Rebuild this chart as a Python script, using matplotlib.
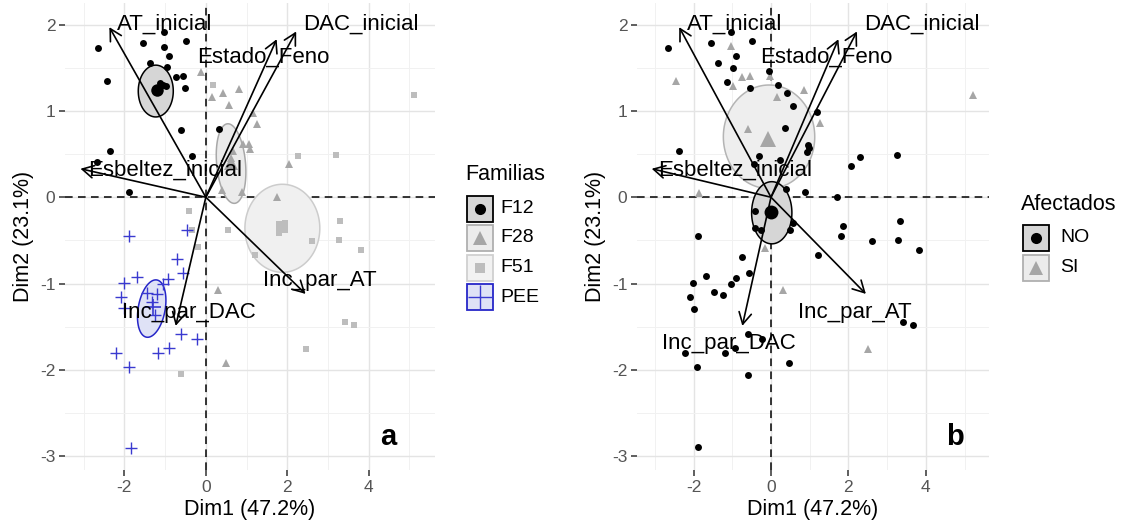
import numpy as np
import matplotlib
matplotlib.use("Agg")
from matplotlib import pyplot as plt
from matplotlib.patches import Rectangle, Polygon

plt.rcParams['font.family'] = ['Liberation Sans', 'DejaVu Sans']
plt.rcParams['axes.unicode_minus'] = False

# ---- panel a: individuos por familia ----
f12_x = [-2.64, -1.54, -1.03, -0.49, -1.03, -0.91, -1.37, -0.96, -2.43, -0.74, -0.57, -0.51,
         -1.21, -1.13, -1.25, -1.05, -0.97, -0.60, 0.33, -2.35, -2.68, -0.33, -1.88]
f12_y = [1.73, 1.79, 1.91, 1.81, 1.74, 1.64, 1.56, 1.51, 1.35, 1.39, 1.40, 1.27,
         1.26, 1.32, 1.24, 1.30, 1.29, 0.78, 0.79, 0.54, 0.41, 0.48, 0.06]

f28_x = [-0.11, 0.15, 0.41, 0.57, 0.82, 1.16, 1.26, 1.06, 1.08, 0.92, 2.05, 0.39, 0.88,
         1.74, 0.29, 0.49, 0.63, 0.66]
f28_y = [1.45, 1.16, 1.21, 1.07, 1.25, 0.98, 0.85, 0.62, 0.56, 0.62, 0.38, 0.08, 0.06,
         0.00, -1.07, -1.92, 0.45, 0.54]

f51_x = [0.18, 5.12, 2.27, 3.21, -0.41, -0.35, -0.19, 0.55, 1.20, 3.30, 2.62, 3.27, 3.82,
         3.41, 3.65, 2.47, -0.60, 1.80, 1.95]
f51_y = [1.30, 1.18, 0.48, 0.49, -0.16, -0.38, -0.58, -0.38, -0.67, -0.27, -0.51, -0.49, -0.61,
         -1.44, -1.48, -1.76, -2.05, -0.42, -0.30]

pee_x = [-1.88, -0.47, -0.72, -0.57, -1.70, -2.01, -0.92, -1.05, -1.45, -1.21, -2.09, -2.01,
         -1.33, -0.60, -0.21, -2.21, -1.17, -0.91, -1.88, -1.85, -1.25]
pee_y = [-0.45, -0.38, -0.71, -0.88, -0.92, -0.99, -0.95, -1.00, -1.11, -1.12, -1.16, -1.28,
         -1.21, -1.59, -1.64, -1.81, -1.81, -1.75, -1.97, -2.90, -1.36]

familias = ['F12', 'F28', 'F51', 'PEE']
fam_mean_x = [-1.21, 0.62, 1.88, -1.29]
fam_mean_y = [1.24, 0.40, -0.34, -1.27]
# elipses: centro y semiejes (vectores u, v)
fam_ell = [(-1.23, 1.23, 0.43, 0.0, 0.0, 0.30),
           (0.62, 0.39, 0.35, 0.03, -0.10, 0.46),
           (1.88, -0.36, 0.92, 0.0, 0.0, 0.51),
           (-1.33, -1.29, 0.32, -0.04, 0.14, 0.33)]

# ---- panel b: afectados ----
no_x = [-2.65, -1.56, -1.02, -0.50, -1.36, -0.91, -0.99, -1.14, -0.54, -0.05, 0.17, 0.42,
        0.58, 1.18, 0.36, 0.96, 0.99, 0.94, -2.37, -0.31, -0.44, 0.23, 2.30, 2.07, 3.26,
        0.38, 0.88, 1.70, -0.40, -0.40, -0.25, 0.56, 0.49, 1.87, 3.33, 1.80, 2.62, 3.29,
        3.83, -1.88, -0.74, 1.22, -0.57, -1.69, -2.01, -0.90, -1.02, -1.47, -1.25, -2.09,
        -1.99, -0.59, -0.24, -2.22, -1.19, -0.93, -1.92, -0.60, 0.47, -1.88, 3.42, 3.68]
no_y = [1.73, 1.79, 1.91, 1.81, 1.56, 1.64, 1.50, 1.34, 1.27, 1.46, 1.30, 1.21,
        1.06, 0.99, 0.80, 0.61, 0.57, 0.52, 0.54, 0.48, 0.38, 0.43, 0.47, 0.36, 0.49,
        0.10, 0.06, 0.00, -0.16, -0.36, -0.38, -0.30, -0.38, -0.33, -0.27, -0.45, -0.51, -0.49,
        -0.61, -0.45, -0.69, -0.67, -0.88, -0.91, -0.99, -0.94, -1.00, -1.10, -1.13, -1.16,
        -1.29, -1.58, -1.64, -1.81, -1.80, -1.75, -1.97, -2.06, -1.92, -2.89, -1.44, -1.48]

si_x = [-1.02, -2.44, -0.76, -0.55, -0.97, -0.03, 0.84, 0.16, -0.59, 1.26, 5.21, -1.86,
        -0.16, 0.30, 2.51]
si_y = [1.75, 1.35, 1.39, 1.40, 1.29, 1.41, 1.24, 1.16, 0.79, 0.86, 1.19, 0.05,
        -0.59, -1.07, -1.76]

afectados = ['NO', 'SI']
afe_mean_x = [0.0, -0.07]
afe_mean_y = [-0.17, 0.68]
afe_ell = [(0.02, -0.18, 0.52, 0.0, 0.0, 0.36),
           (-0.05, 0.70, 1.18, 0.0, 0.0, 0.60)]

# ---- variables (flechas) ----
var_names = ['AT_inicial', 'DAC_inicial', 'Estado_Feno', 'Esbeltez_inicial', 'Inc_par_AT', 'Inc_par_DAC']
var_x = [-2.37, 2.22, 1.74, -3.08, 2.45, -0.74]
var_y = [1.97, 1.92, 1.83, 0.33, -1.12, -1.49]
lab_a_x = [-1.0, 3.8, 1.4, -1.0, 2.8, -0.41]
lab_a_y = [2.0, 2.0, 1.62, 0.31, -0.96, -1.33]
lab_b_x = [-0.93, 3.9, 1.42, -0.93, 2.17, -1.08]
lab_b_y = [2.0, 2.0, 1.62, 0.31, -1.33, -1.70]

W, H = 1127, 524
fig = plt.figure(figsize=(W / 100, H / 100), dpi=100)


def base_axes(left_px, width_px):
    ax = fig.add_axes([left_px / W, (H - 470) / H, width_px / W, 467 / H])
    ax.set_xlim(-3.46, 5.63)
    ax.set_ylim(-3.16, 2.25)
    ax.set_xticks([-2, 0, 2, 4])
    ax.set_xticks([-3, -1, 1, 3, 5], minor=True)
    ax.set_yticks([-3, -2, -1, 0, 1, 2])
    ax.set_yticks([-2.5, -1.5, -0.5, 0.5, 1.5], minor=True)
    ax.grid(which='major', color='#e4e4e4', lw=1.0)
    ax.grid(which='minor', color='#f1f1f1', lw=0.7)
    ax.set_axisbelow(True)
    for s in ax.spines.values():
        s.set_visible(False)
    ax.tick_params(which='major', length=4, width=1.1, color='#333333', labelcolor='#555555',
                   labelsize=12.5, pad=3)
    ax.tick_params(which='minor', length=0)
    ax.set_xlabel('Dim1 (47.2%)', fontsize=15.5, labelpad=3)
    ax.set_ylabel('Dim2 (23.1%)', fontsize=15.5, labelpad=4)
    ax.axhline(0, color='black', lw=1.1, ls=(0, (5, 3.5)), zorder=2)
    ax.axvline(0, color='black', lw=1.1, ls=(0, (5, 3.5)), zorder=2)
    return ax


def ellipse(ax, e, face, edge, lw=1.1):
    cx, cy, ux, uy, vx, vy = e
    t = np.linspace(0, 2 * np.pi, 200)
    pts = np.column_stack([cx + ux * np.cos(t) + vx * np.sin(t),
                           cy + uy * np.cos(t) + vy * np.sin(t)])
    ax.add_patch(Polygon(pts, closed=True, facecolor=face, edgecolor=edge, lw=lw, zorder=3))


def arrows(ax, lx, ly):
    for name, x, y, tx, ty in zip(var_names, var_x, var_y, lx, ly):
        ax.annotate('', xy=(x, y), xytext=(0, 0),
                    arrowprops=dict(arrowstyle='->,head_length=0.55,head_width=0.3', lw=1.2,
                                    color='black', shrinkA=0, shrinkB=0, mutation_scale=15),
                    zorder=5)
        ax.text(tx, ty, name, fontsize=16, ha='center', va='center', color='black', zorder=6)


# panel a
ax1 = base_axes(65, 370)
ell_face = ['#d6d6d6', '#ebebeb', '#f0f0f0', '#dfe2f6']
ell_edge = ['black', '#a8a8a8', '#cccccc', '#2626c8']
for e, fc, ec in zip(fam_ell, ell_face, ell_edge):
    ellipse(ax1, e, fc, ec)
ax1.plot(f51_x, f51_y, 's', color='#bdbdbd', ms=5, mew=0, zorder=4)
ax1.plot(f28_x, f28_y, '^', color='#a6a6a6', ms=6, mew=0, zorder=4)
ax1.plot(pee_x, pee_y, '+', color='#3a3ad0', ms=8, mew=1.0, zorder=4)
ax1.plot(f12_x, f12_y, 'o', color='black', ms=5, mew=0, zorder=4)
mean_style = [('o', 'black', 9), ('^', '#a6a6a6', 10), ('s', '#bdbdbd', 9), ('+', '#3a3ad0', 12)]
for (m, c, s), mx, my in zip(mean_style, fam_mean_x, fam_mean_y):
    ax1.plot(mx, my, m, color=c, ms=s, mew=1.2 if m == '+' else 0, zorder=4)
arrows(ax1, lab_a_x, lab_a_y)

# panel b
ax2 = base_axes(637, 352)
ellipse(ax2, afe_ell[1], '#eeeeee', '#b4b4b4')
ellipse(ax2, afe_ell[0], '#d6d6d6', 'black')
ax2.plot(si_x, si_y, '^', color='#a6a6a6', ms=6, mew=0, zorder=4)
ax2.plot(no_x, no_y, 'o', color='black', ms=5, mew=0, zorder=4)
ax2.plot(afe_mean_x[0], afe_mean_y[0], 'o', color='black', ms=10, mew=0, zorder=4)
ax2.plot(afe_mean_x[1], afe_mean_y[1], '^', color='#a6a6a6', ms=11, mew=0, zorder=4)
arrows(ax2, lab_b_x, lab_b_y)

# leyendas y letras (capa en pixeles)
ov = fig.add_axes([0, 0, 1, 1])
ov.set_xlim(0, W)
ov.set_ylim(H, 0)
ov.axis('off')

ov.text(465, 175, 'Familias', fontsize=15.5, va='center', ha='left')
key_face = ['#d6d6d6', '#ececec', '#f2f2f2', '#dfe2f6']
key_edge = ['black', '#b0b0b0', '#d0d0d0', '#2626c8']
key_mark = [('o', 'black', 8, 0), ('^', '#a6a6a6', 10, 0), ('s', '#bdbdbd', 7, 0), ('+', '#3a3ad0', 18, 1.0)]
for i, lab in enumerate(familias):
    cy = 208.5 + i * 29.5
    ov.add_patch(Rectangle((467, cy - 13), 26, 26, facecolor=key_face[i], edgecolor=key_edge[i], lw=1.3))
    m, c, s, mw = key_mark[i]
    ov.plot(480, cy, m, color=c, ms=s, mew=mw)
    ov.text(500, cy, lab, fontsize=14, va='center', ha='left')

ov.text(1021, 205, 'Afectados', fontsize=15.5, va='center', ha='left')
bkey = [('#d6d6d6', 'black', 'o', 'black', 8), ('#ececec', '#b0b0b0', '^', '#a6a6a6', 10)]
for i, lab in enumerate(afectados):
    cy = 238 + i * 29.5
    fc, ec, m, c, s = bkey[i]
    ov.add_patch(Rectangle((1023, cy - 13), 26, 26, facecolor=fc, edgecolor=ec, lw=1.3))
    ov.plot(1036, cy, m, color=c, ms=s, mew=0)
    ov.text(1060, cy, lab, fontsize=14, va='center', ha='left')

ov.text(388, 437, 'a', fontsize=21, fontweight='bold', ha='center', va='center')
ov.text(955, 437, 'b', fontsize=21, fontweight='bold', ha='center', va='center')

fig.savefig('out.png', dpi=100)
